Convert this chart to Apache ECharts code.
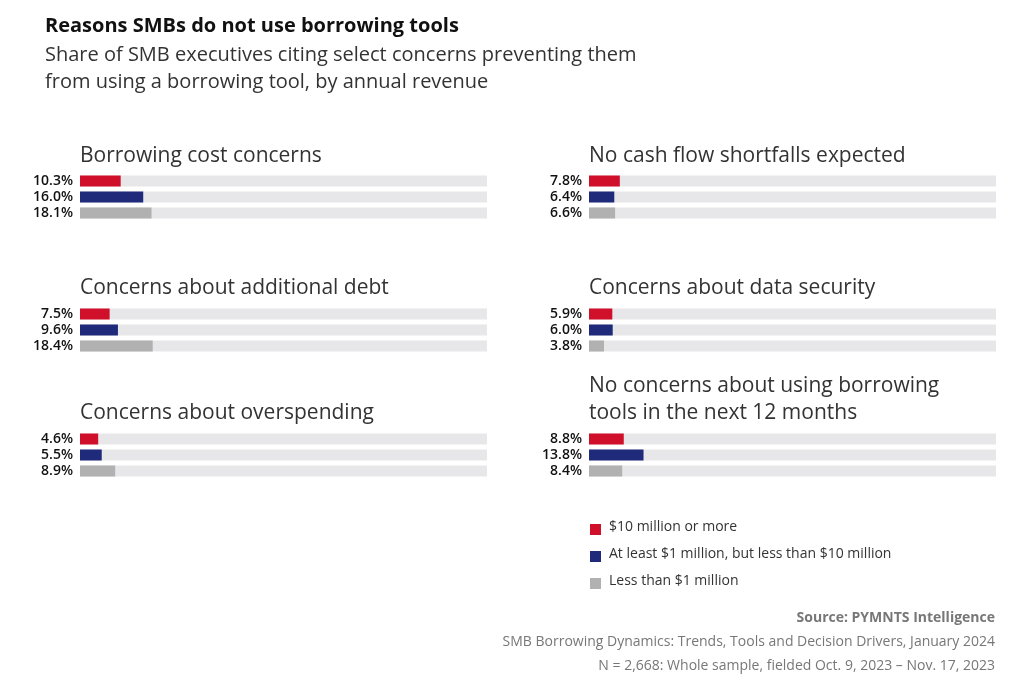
<!DOCTYPE html>
<html><head><meta charset="utf-8">
<script src="https://cdn.jsdelivr.net/npm/echarts@6/dist/echarts.min.js"></script>
<style>body{margin:0;background:#fff}#main{width:1024px;height:690px}</style>
</head><body><div id="main"></div>
<script>
var panelTitles = [
  ['Borrowing cost concerns'], ['Concerns about additional debt'], ['Concerns about overspending'],
  ['No cash flow shortfalls expected'], ['Concerns about data security'],
  ['No concerns about using borrowing', 'tools in the next 12 months']
];
var groups = ['$10 million or more', 'At least $1 million, but less than $10 million', 'Less than $1 million'];
var values = [
  [10.3, 16.0, 18.1], [7.5, 9.6, 18.4], [4.6, 5.5, 8.9],
  [7.8, 6.4, 6.6], [5.9, 6.0, 3.8], [8.8, 13.8, 8.4]
];
var colors = ['#d0102a', '#1f2a7a', '#b1b1b1'];

var chart = echarts.init(document.getElementById('main'));
var font = '"Open Sans", sans-serif';
var tops = [173, 306, 431];
var lefts = [80, 589];
var grids = [], xAxes = [], yAxes = [], series = [], graphics = [];
values.forEach(function (vals, i) {
  var col = i < 3 ? 0 : 1, row = i % 3;
  grids.push({ left: lefts[col], top: tops[row], width: 407, height: 48 });
  xAxes.push({ gridIndex: i, type: 'value', min: 0, max: 103, show: false });
  yAxes.push({
    gridIndex: i, type: 'category', inverse: true, data: groups,
    axisLine: { show: false }, axisTick: { show: false },
    axisLabel: {
      interval: 0, margin: 7, color: '#111', fontSize: 14, fontWeight: 600, fontFamily: font,
      formatter: function (v, k) { return vals[k].toFixed(1) + '%'; }
    }
  });
  series.push({
    type: 'bar', xAxisIndex: i, yAxisIndex: i, barWidth: 11,
    showBackground: true, backgroundStyle: { color: '#e7e7ea' },
    data: vals.map(function (v, k) { return { value: v, itemStyle: { color: colors[k] } }; })
  });
  var t = panelTitles[i];
  var ty = t.length > 1 ? 373 : [143, 275, 400][row];
  graphics.push({ type: 'text', left: lefts[col], top: ty,
    style: { text: t.join('\n'), font: '21px ' + font, fill: '#333', lineHeight: 27 } });
});
groups.forEach(function (g, k) {
  graphics.push({ type: 'rect', shape: { x: 590, y: 524 + k * 27, width: 11, height: 11 }, style: { fill: colors[k] } });
  graphics.push({ type: 'text', left: 609, top: 520 + k * 27, style: { text: g, font: '14px ' + font, fill: '#333' } });
});
graphics.push({ type: 'text', left: 45, top: 16, style: { text: 'Reasons SMBs do not use borrowing tools', font: 'bold 20px ' + font, fill: '#111' } });
graphics.push({ type: 'text', left: 45, top: 42, style: { text: 'Share of SMB executives citing select concerns preventing them\nfrom using a borrowing tool, by annual revenue', font: '20px ' + font, fill: '#333', lineHeight: 27 } });
var src = [['Source: PYMNTS Intelligence', 'bold'], ['SMB Borrowing Dynamics: Trends, Tools and Decision Drivers, January 2024', 'normal'], ['N = 2,668: Whole sample, fielded Oct. 9, 2023 \u2013 Nov. 17, 2023', 'normal']];
src.forEach(function (s, k) {
  graphics.push({ type: 'text', right: 29, top: 611 + k * 24, style: { text: s[0], font: s[1] + ' 14px ' + font, fill: '#777', align: 'right' } });
});
chart.setOption({
  animation: false, grid: grids, xAxis: xAxes, yAxis: yAxes, series: series, graphic: graphics
});
</script></body></html>
